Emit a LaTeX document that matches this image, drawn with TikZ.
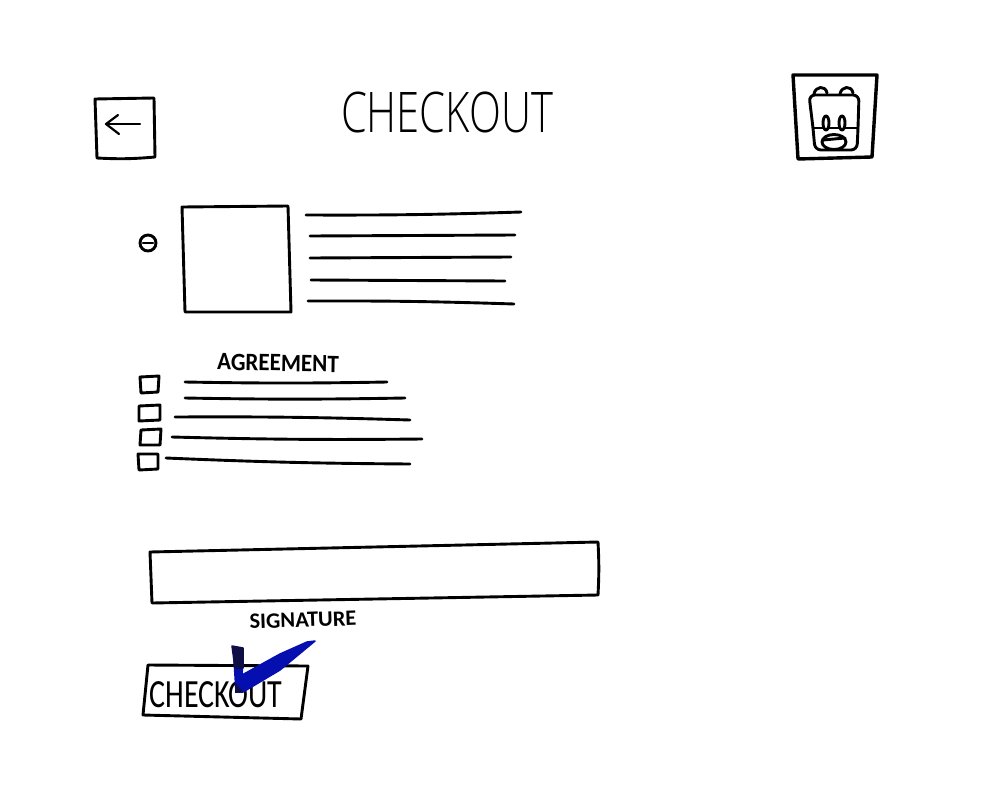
\documentclass[tikz,border=0pt]{standalone}
\usepackage{fontspec}
\setmainfont{Carlito}
\newfontfamily\thinhand{Open Sans Light}
\usetikzlibrary{positioning}
\definecolor{checkblue}{RGB}{5,15,175}
\definecolor{checkdark}{RGB}{15,15,70}
\tikzset{
  pen/.style={line width=2.9pt, line cap=round, line join=round},
  thinpen/.style={line width=2.2pt, line cap=round, line join=round},
  handtext/.style={inner sep=0pt, font=\fontsize{#1}{#1}\selectfont},
  thicktext/.style={inner sep=0pt, font=\fontsize{#1}{#1}\selectfont\bfseries},
  thintext/.style={inner sep=0pt, font=\fontsize{#1}{#1}\selectfont\thinhand},
}
\begin{document}
\begin{tikzpicture}[x=1pt, y=-1pt]
    \useasboundingbox[fill=white] (0,0) rectangle (1000,800);

    % header
    \draw[pen] (95,99) -- (154,98) -- (155,157) to[bend left=4] (97,158) -- cycle;
    \coordinate (arrowtail) at (140,124);
    \coordinate (arrowtip) at (106,124);
    \draw[thinpen] (arrowtail) -- (arrowtip);
    \draw[thinpen] (118,115) -- (arrowtip) -- (119,134);
    \node[thintext=56, xscale=.745] (title) at (447,112) {CHECKOUT};

    % backpack
    \draw[line width=3.4pt, line join=round, line cap=round] (793,75) -- (877,75) -- (872,157) -- (798,159) -- cycle;
    \draw[pen, rounded corners=6pt] (809,95) -- (859,95) -- (858,128) -- (857,150) -- (815,150) -- (813,128) -- cycle;
    \draw[pen] (813,128) -- (858,128);
    \draw[pen] (814,94) to[out=80, in=100, looseness=1.6] (827,93);
    \draw[pen] (840,94) to[out=80, in=100, looseness=1.6] (853,93);
    \draw[pen, fill=white] (826,123) ellipse (3 and 7);
    \draw[pen, fill=white] (842,123) ellipse (3 and 7);
    \draw[pen] (834,142) ellipse (12 and 7.5);
    \draw[pen] (823,140) -- (845,138);

    % item row
    \draw[pen] (148,243) circle (8);
    \draw[pen] (143,243) -- (153,243);
    \draw[pen] (182,207) -- (288,206) -- (291,312) -- (185,312) -- cycle;
    \draw[pen] (306,215) to[bend right=1] (521,212);
    \draw[pen] (310,236) -- (515,235);
    \draw[pen] (310,258) -- (511,257);
    \draw[pen] (311,280) -- (505,281);
    \draw[pen] (308,301) to[bend left=1] (514,304);

    % agreement
    \node[thicktext=25, xscale=.92, rotate=-1] (agreement) at (278,363) {AGREEMENT};
    \draw[pen] (185,382) to[bend right=1] (387,382);
    \draw[pen] (185,398) to[bend right=1] (405,398);
    \draw[pen] (175,417) to[bend left=1] (410,420);
    \draw[pen] (172,437) to[bend right=1] (422,439);
    \draw[pen] (166,458) to[bend right=1] (410,464);
    \draw[pen] (140,377) -- (159,376) -- (158,392) -- (141,393) -- cycle;
    \draw[pen] (139,406) -- (160,405) -- (160,420) -- (139,421) -- cycle;
    \draw[pen] (141,430) -- (161,429) -- (160,445) -- (140,445) -- cycle;
    \draw[pen] (138,454) -- (158,454) -- (158,469) -- (139,470) -- cycle;

    % signature
    \draw[pen] (150,552) -- (598,542) to[bend left=3] (598,595) -- (152,603) -- cycle;
    \node[thicktext=22, xscale=1.02, rotate=2] (signature) at (303,620) {SIGNATURE};

    % button and check mark
    \draw[pen] (148,665) -- (308,666) -- (301,719) -- (143,715) -- cycle;
    \node[handtext=40, xscale=.75] (button) at (216,695) {CHECKOUT};
    \filldraw[checkblue, line width=1.5pt, line join=round] (234,660) -- (243,660) -- (242,675) -- (280,654) -- (307,642) -- (315,641) -- (280,670) -- (243,692) -- (236,692) -- cycle;
    \filldraw[checkdark, line width=1.5pt, line join=round] (232,646) -- (243,648) -- (243,668) -- (235,668) -- cycle;
    \fill[checkdark] (235,683) -- (240,688) -- (243,692) -- (235,693) -- cycle;
\end{tikzpicture}
\end{document}
